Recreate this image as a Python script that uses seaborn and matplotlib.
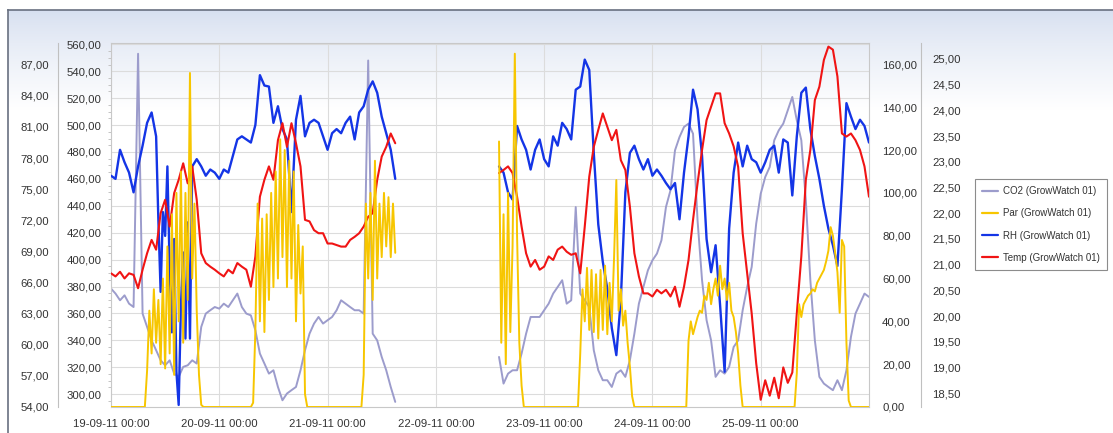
import numpy as np
import pandas as pd
import matplotlib
matplotlib.use('Agg')
import matplotlib.pyplot as plt
from matplotlib.ticker import FuncFormatter, MultipleLocator
from matplotlib.lines import Line2D
import seaborn as sns

# hours after 19-09-11 00:00, two logged stretches with a gap in between
hours_a = list(range(0, 64))
hours_b = list(range(86, 169))
# Par is read every half hour, RH gets extra half hours on the 19th
par_hours_a = [h / 2 for h in range(0, 127)]
par_hours_b = [h / 2 for h in range(172, 337)]
rh_hours_a = list(range(0, 11)) + [10.5 + 0.5 * i for i in range(16)] + list(range(19, 64))

co2_a = [378.5, 374.8, 369.8, 373.5, 367.3, 364.8, 553.0, 359.9, 350.0, 340.0,
         332.7, 325.2, 321.5, 325.2, 315.3, 312.9, 320.3, 321.5, 325.2, 322.8,
         350.0, 359.9, 362.4, 364.8, 363.6, 367.3, 364.8, 369.8, 374.8, 364.8,
         359.9, 358.6, 347.5, 330.2, 322.8, 315.3, 317.8, 305.4, 295.5, 300.5,
         303.0, 305.4, 317.8, 332.7, 345.0, 352.5, 357.4, 352.5, 355.0, 357.4,
         362.4, 369.8, 367.3, 364.8, 362.4, 362.4, 359.9, 548.0, 345.0, 340.0,
         327.7, 317.8, 305.4, 294.3]
co2_b = [327.7, 307.9, 315.3, 317.8, 317.8, 330.2, 345.0, 357.4, 357.4, 357.4,
         362.4, 367.3, 374.8, 379.7, 384.7, 367.3, 369.8, 439.1, 374.8, 369.8,
         364.8, 332.7, 317.8, 310.4, 310.4, 305.4, 315.3, 317.8, 312.9, 325.2,
         345.0, 367.3, 379.7, 392.1, 399.5, 404.5, 414.4, 439.1, 451.5, 481.2,
         491.1, 498.6, 501.1, 493.6, 429.2, 384.7, 355.0, 340.0, 312.9, 317.8,
         315.3, 320.3, 335.1, 340.0, 362.4, 379.7, 394.6, 426.8, 449.0, 461.4,
         468.9, 488.7, 496.1, 501.1, 511.0, 520.9, 503.5, 488.7, 444.1, 384.7,
         340.0, 312.9, 307.9, 305.4, 303.0, 310.4, 303.0, 317.8, 342.6, 359.9,
         367.3, 374.8, 372.3]

par_a = [0, 0, 0, 0, 0, 0, 0, 0, 0, 0, 0, 0, 0, 0, 0, 0,
         17, 45, 25, 55, 30, 50, 20, 60, 18, 75, 25, 90, 15, 100, 40, 110,
         30, 100, 50, 156, 60, 95, 45, 15, 1,
         0, 0, 0, 0, 0, 0, 0, 0, 0, 0, 0, 0, 0, 0, 0, 0, 0, 0, 0, 0, 0, 0,
         2, 36, 95, 40, 88, 35, 90, 50, 100, 56, 110, 60, 125, 70, 120, 56,
         115, 60, 110, 40, 85, 53, 75, 6,
         0, 0, 0, 0, 0, 0, 0, 0, 0, 0, 0, 0, 0, 0, 0, 0, 0, 0, 0, 0, 0, 0,
         0, 0, 0,
         15, 95, 60, 100, 50, 115, 60, 95, 70, 100, 75, 98, 70, 95, 72]
par_b = [124, 30, 90, 20, 100, 35, 75, 165, 80, 30, 10,
         0, 0, 0, 0, 0, 0, 0, 0, 0, 0, 0, 0, 0, 0, 0, 0, 0, 0, 0, 0, 0, 0,
         0, 0, 0,
         25, 55, 40, 65, 36, 64, 35, 62, 32, 64, 36, 66, 34, 58, 40, 70,
         106, 45, 55, 38, 45, 30, 19, 5,
         0, 0, 0, 0, 0, 0, 0, 0, 0, 0, 0, 0, 0, 0, 0, 0, 0, 0, 0, 0, 0, 0,
         0, 0,
         31, 40, 34, 38, 42, 45, 44, 52, 50, 58, 48, 55, 60, 52, 66, 55,
         60, 50, 58, 45, 42, 35, 25, 10,
         0, 0, 0, 0, 0, 0, 0, 0, 0, 0, 0, 0, 0, 0, 0, 0, 0, 0, 0, 0, 0, 0,
         0, 0,
         16, 48, 42, 48, 50, 52, 53, 55, 54, 58, 60, 62, 64, 68, 73, 84,
         80, 72, 63, 44, 78, 75, 30, 3,
         0, 0, 0, 0, 0, 0, 0, 0, 0]

rh_a = [76.3, 76.0, 78.8, 77.6, 76.6, 74.7, 77.2, 79.2, 81.4, 82.4, 80.1,
        72.0, 65.1, 72.8, 70.5, 77.2, 67.3, 61.2, 70.2, 57.4, 54.2, 63.8, 68.9,
        60.6, 71.8, 60.6, 77.2,
        77.9, 77.2, 76.3, 76.9, 76.6, 76.0, 76.9, 76.6, 78.2, 79.8,
        80.1, 79.8, 79.5, 81.2, 86.0, 85.0, 84.9, 81.4, 83.0, 80.8,
        79.8, 72.8, 81.7, 84.0, 80.1, 81.4, 81.7, 81.4, 80.1, 78.8,
        80.4, 80.8, 80.4, 81.4, 82.0, 79.8, 82.4, 83.0, 84.6, 85.4,
        84.3, 82.0, 80.4, 78.8, 76.0]
rh_b = [77.2, 76.6, 74.7, 74.0, 81.1, 79.8, 78.8, 76.9, 78.8, 79.8,
        77.9, 77.2, 80.1, 79.2, 81.4, 80.8, 79.8, 84.6, 84.9, 87.5,
        86.5, 78.5, 71.6, 68.0, 65.4, 61.6, 59.0, 64.4, 74.7, 78.5,
        79.2, 77.9, 76.9, 77.9, 76.3, 76.9, 76.3, 75.6, 75.0, 75.6,
        72.1, 76.6, 80.1, 84.6, 82.7, 78.2, 70.2, 67.0, 69.6, 63.8,
        57.4, 71.2, 76.6, 79.5, 77.2, 79.2, 77.9, 77.6, 76.6, 77.6,
        78.8, 79.2, 76.6, 79.8, 79.5, 74.4, 80.1, 84.3, 84.8, 80.8,
        78.2, 76.0, 73.4, 71.2, 69.6, 67.6, 75.0, 83.3, 82.0, 80.8,
        81.7, 81.1, 79.5]

temp_a = [20.83, 20.77, 20.86, 20.73, 20.83, 20.80, 20.54, 20.90, 21.22, 21.48,
          21.29, 22.00, 22.26, 21.74, 22.39, 22.65, 22.97, 22.58, 22.91, 22.26,
          21.22, 21.03, 20.96, 20.90, 20.83, 20.77, 20.90, 20.83, 21.03, 20.96,
          20.90, 20.57, 21.16, 22.32, 22.65, 22.91, 22.65, 23.42, 23.75, 23.29,
          23.75, 23.36, 22.91, 21.87, 21.84, 21.67, 21.61, 21.61, 21.41, 21.41,
          21.38, 21.35, 21.35, 21.48, 21.54, 21.61, 21.74, 21.93, 22.00, 22.65,
          23.10, 23.29, 23.55, 23.36]
temp_b = [22.78, 22.84, 22.91, 22.78, 22.32, 21.74, 21.22, 20.96, 21.09, 20.90,
          20.96, 21.16, 21.09, 21.29, 21.35, 21.25, 21.19, 21.22, 20.83, 21.74,
          22.71, 23.29, 23.62, 23.94, 23.68, 23.42, 23.62, 23.03, 22.84, 22.13,
          21.22, 20.77, 20.44, 20.44, 20.38, 20.51, 20.44, 20.51, 20.38, 20.57,
          20.18, 20.57, 21.09, 21.87, 22.58, 23.23, 23.81, 24.07, 24.33, 24.33,
          23.75, 23.55, 23.30, 22.90, 21.61, 20.83, 20.05, 19.08, 18.37, 18.75,
          18.45, 18.80, 18.40, 19.00, 18.70, 18.90, 20.05, 21.16, 22.65, 23.23,
          24.20, 24.46, 24.98, 25.24, 25.18, 24.66, 23.55, 23.49, 23.55, 23.42,
          23.23, 22.91, 22.32]

day_ticks = ['2011-09-19', '2011-09-20', '2011-09-21', '2011-09-22',
             '2011-09-23', '2011-09-24', '2011-09-25']
labels = ['CO2 (GrowWatch 01)', 'Par (GrowWatch 01)', 'RH (GrowWatch 01)', 'Temp (GrowWatch 01)']
colors = ['#9c9ccc', '#f7c600', '#1435e6', '#f01414']

start = pd.Timestamp('2011-09-19 00:00')


def frame(ha, va, hb, vb):
    return pd.DataFrame({
        'time': [start + pd.Timedelta(hours=h) for h in list(ha) + list(hb)],
        'segment': [0] * len(ha) + [1] * len(hb),
        'value': list(va) + list(vb),
    })


df_co2 = frame(hours_a, co2_a, hours_b, co2_b)
df_par = frame(par_hours_a, par_a, par_hours_b, par_b)
df_rh = frame(rh_hours_a, rh_a, hours_b, rh_b)
df_temp = frame(hours_a, temp_a, hours_b, temp_b)

sns.set_style('white')
plt.rcParams['font.family'] = ['Liberation Sans', 'DejaVu Sans']
txt = '#333333'

fig = plt.figure(figsize=(11.13, 4.33), dpi=100)

# panel with the pale blue fade at the top
bg = fig.add_axes([8 / 1113, 0, 1 - 8 / 1113, 1 - 10 / 433], zorder=-10)
top = np.array([0.84, 0.875, 0.94])
fade = np.clip(np.arange(423) / 100.0, 0, 1) ** 0.8
grad = top[None, :] * (1 - fade[:, None]) + fade[:, None]
bg.imshow(grad[:, None, :], aspect='auto', extent=[0, 1, 0, 1])
bg.set_xticks([])
bg.set_yticks([])
bg.spines['right'].set_visible(False)
bg.spines['bottom'].set_visible(False)
for s in ['top', 'left']:
    bg.spines[s].set_color('#687080')
    bg.spines[s].set_linewidth(1.2)

fmt = FuncFormatter(lambda v, _: f'{v:.2f}'.replace('.', ','))

# CO2 on the host axes (also carries the grid)
ax = fig.add_axes([111 / 1113, 1 - 407 / 433, 758 / 1113, 364 / 433])
ax.set_facecolor('none')
sns.lineplot(data=df_co2, x='time', y='value', units='segment', estimator=None,
             color=colors[0], lw=1.4, ax=ax)
ax.set_ylim(290.5, 561)
ax.set_yticks(range(300, 561, 20))
ax.yaxis.set_minor_locator(MultipleLocator(5))
ax.yaxis.set_major_formatter(fmt)
ax.set_xlim(pd.Timestamp('2011-09-19'), pd.Timestamp('2011-09-26'))
ax.set_xticks(pd.to_datetime(day_ticks))
ax.set_xticklabels([pd.Timestamp(d).strftime('%d-%m-%y %H:%M') for d in day_ticks])
ax.grid(True, color='#dcdcdc', lw=0.8)
ax.set_axisbelow(True)
ax.tick_params(axis='y', which='major', length=0, pad=6.7, labelsize=8.2, labelcolor=txt)
ax.tick_params(axis='y', which='minor', left=True, length=2.5, color='#c4c4c4', width=0.7)
ax.tick_params(axis='x', length=0, pad=8.3, labelsize=8.2, labelcolor=txt)
for s in ax.spines.values():
    s.set_color('#c8c8c8')
    s.set_linewidth(0.8)
ax.set_xlabel('')
ax.set_ylabel('')

# RH on an outer left axis
ax_rh = ax.twinx()
sns.lineplot(data=df_rh, x='time', y='value', units='segment', estimator=None,
             color=colors[2], lw=1.7, ax=ax_rh)
ax_rh.set_ylim(54, 89.1)
ax_rh.set_yticks(range(54, 88, 3))
ax_rh.yaxis.set_major_formatter(fmt)
ax_rh.yaxis.set_label_position('left')
ax_rh.yaxis.set_ticks_position('left')
ax_rh.spines['left'].set_position(('outward', 38.2))
for s in ['right', 'top', 'bottom']:
    ax_rh.spines[s].set_visible(False)
ax_rh.spines['left'].set_visible(True)
ax_rh.spines['left'].set_color('#c0c0c0')
ax_rh.spines['left'].set_linewidth(0.8)
ax_rh.tick_params(axis='y', length=0, pad=6.3, labelsize=8.2, labelcolor=txt)
ax_rh.set_ylabel('')

# Temp on an outer right axis
ax_t = ax.twinx()
sns.lineplot(data=df_temp, x='time', y='value', units='segment', estimator=None,
             color=colors[3], lw=1.5, ax=ax_t)
ax_t.set_ylim(18.23, 25.31)
ax_t.set_yticks(np.arange(18.5, 25.01, 0.5))
ax_t.yaxis.set_major_formatter(fmt)
ax_t.spines['right'].set_position(('outward', 37.4))
for s in ['left', 'top', 'bottom']:
    ax_t.spines[s].set_visible(False)
ax_t.spines['right'].set_color('#c0c0c0')
ax_t.spines['right'].set_linewidth(0.8)
ax_t.tick_params(axis='y', length=0, pad=7.9, labelsize=8.2, labelcolor=txt)
ax_t.set_ylabel('')

# Par on the inner right axis
ax_p = ax.twinx()
sns.lineplot(data=df_par, x='time', y='value', units='segment', estimator=None,
             color=colors[1], lw=1.4, ax=ax_p)
ax_p.set_ylim(0, 170)
ax_p.set_yticks(range(0, 161, 20))
ax_p.yaxis.set_major_formatter(fmt)
for s in ax_p.spines.values():
    s.set_visible(False)
ax_p.tick_params(axis='y', length=0, pad=9.4, labelsize=8.2, labelcolor=txt)
ax_p.set_ylabel('')

handles = [Line2D([0], [0], color=c, lw=1.6) for c in colors]
leg = fig.legend(handles, labels, loc='upper left',
                 bbox_to_anchor=(975 / 1113, 1 - 179 / 433), bbox_transform=fig.transFigure,
                 frameon=True, fancybox=False, fontsize=7, labelspacing=1.25,
                 handlelength=1.65, handletextpad=0.5, borderpad=0.75, borderaxespad=0)
leg.get_frame().set_edgecolor('#8c8c8c')
leg.get_frame().set_linewidth(0.8)
leg.get_frame().set_facecolor('white')
leg.get_frame().set_alpha(1)
for t in leg.get_texts():
    t.set_color(txt)

fig.savefig('out.png', dpi=100)
